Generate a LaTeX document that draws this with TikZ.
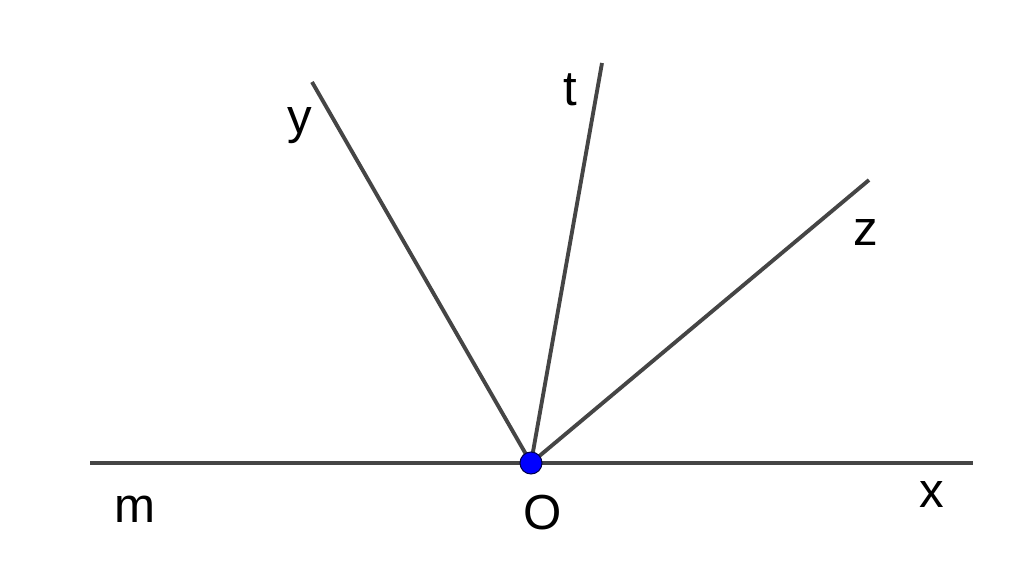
\documentclass[tikz,border=0pt]{standalone}
\usepackage{fontspec}
\setmainfont{Liberation Sans}
\definecolor{linegray}{HTML}{454545}
\definecolor{dotblue}{HTML}{0000FF}
\tikzset{ray/.style={draw=linegray, line width=2.2pt}, lbl/.style={anchor=base, inner sep=0pt, font=\fontsize{28}{34}\selectfont}}
\begin{document}
\begin{tikzpicture}[x=0.02cm, y=-0.02cm]
    \useasboundingbox (0, 0) rectangle (1024, 578);

    \coordinate (O) at (531, 463);
    \coordinate (M) at (90, 463);
    \coordinate (X) at (973, 463);
    \coordinate (Y) at (312, 82);
    \coordinate (T) at (602, 63);
    \coordinate (Z) at (869, 180);

    \draw[ray] (M)--(X);
    \draw[ray] (O)--(Y);
    \draw[ray] (O)--(T);
    \draw[ray] (O)--(Z);

    \filldraw[draw=black!70!blue, fill=dotblue, line width=0.6pt] (O) circle (0.22cm);

    \node[lbl] (ylbl) at (300, 133) {y};
    \node[lbl] (tlbl) at (570, 105) {t};
    \node[lbl] (zlbl) at (866, 245) {z};
    \node[lbl] (mlbl) at (135, 522) {m};
    \node[lbl] (olbl) at (543, 529) {O};
    \node[lbl] (xlbl) at (932, 507) {x};
  \end{tikzpicture}
\end{document}
